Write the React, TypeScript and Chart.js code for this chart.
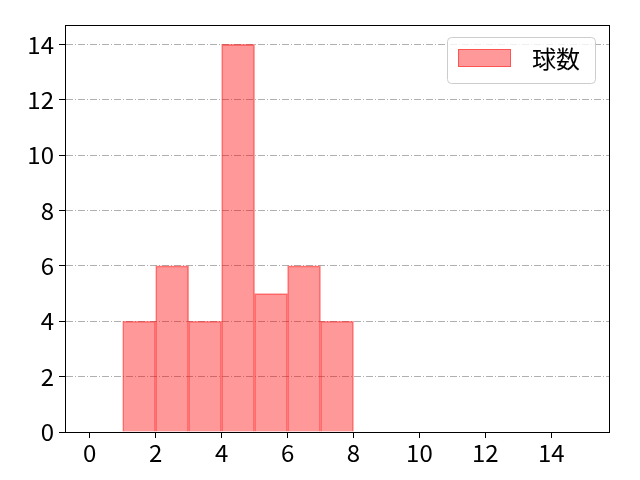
import { useEffect, useRef } from 'react';
import { Chart, registerables } from 'chart.js';

Chart.register(...registerables);

// histogram bins (left edges, width 1) and counts
const binStarts = [1, 2, 3, 4, 5, 6, 7];
const counts = [4, 6, 4, 14, 5, 6, 4];
const seriesLabel = '球数';
const xTicks = [0, 2, 4, 6, 8, 10, 12, 14];
const yTicks = [0, 2, 4, 6, 8, 10, 12, 14];

const FONT = "'Noto Sans CJK JP', 'DejaVu Sans', sans-serif";
const FILL = 'rgba(255, 0, 0, 0.4)';
const EDGE = 'rgba(255, 0, 0, 0.45)';

// matplotlib-like frame + legend box
const framePlugin = {
  id: 'frame',
  afterDraw(chart: Chart) {
    const { ctx, chartArea } = chart;
    ctx.save();
    ctx.strokeStyle = '#000';
    ctx.lineWidth = 1;
    ctx.strokeRect(
      Math.round(chartArea.left) + 0.5,
      Math.round(chartArea.top) + 0.5,
      Math.round(chartArea.right - chartArea.left),
      Math.round(chartArea.bottom - chartArea.top)
    );

    // legend
    const lx = chartArea.right - 162;
    const ly = chartArea.top + 12;
    const lw = 148;
    const lh = 46;
    ctx.beginPath();
    ctx.roundRect(lx + 0.5, ly + 0.5, lw, lh, 4);
    ctx.fillStyle = 'rgba(255,255,255,0.8)';
    ctx.fill();
    ctx.strokeStyle = '#cccccc';
    ctx.stroke();

    ctx.fillStyle = FILL;
    ctx.fillRect(lx + 11, ly + 12, 53, 18);
    ctx.strokeStyle = EDGE;
    ctx.strokeRect(lx + 11.5, ly + 12.5, 52, 17);

    ctx.fillStyle = '#000';
    ctx.font = `24px ${FONT}`;
    ctx.textBaseline = 'middle';
    ctx.textAlign = 'left';
    ctx.fillText(chart.data.datasets[0].label || '', lx + 85, ly + 22);
    ctx.restore();
  }
};

export default function App() {
  const canvasRef = useRef<HTMLCanvasElement | null>(null);
  const chartRef = useRef<Chart | null>(null);

  useEffect(() => {
    if (!canvasRef.current) return;
    if (chartRef.current) chartRef.current.destroy();

    const TICK = { color: '#000', font: { family: FONT, size: 24 } };

    chartRef.current = new Chart(canvasRef.current, {
      type: 'bar',
      data: {
        datasets: [
          {
            label: seriesLabel,
            data: binStarts.map((s, i) => ({ x: s + 0.5, y: counts[i] })),
            backgroundColor: FILL,
            borderColor: EDGE,
            borderWidth: 1,
            barPercentage: 1,
            categoryPercentage: 1
          }
        ]
      },
      options: {
        animation: false,
        responsive: true,
        maintainAspectRatio: false,
        layout: { padding: { top: 25, right: 31, left: 0, bottom: 0 } },
        scales: {
          x: {
            type: 'linear',
            min: -0.75,
            max: 15.75,
            offset: false,
            afterBuildTicks: (axis: any) => {
              axis.ticks = xTicks.map((v) => ({ value: v }));
            },
            afterFit: (axis: any) => {
              axis.height = 48;
            },
            ticks: { ...TICK, padding: 0, maxRotation: 0, autoSkip: false },
            grid: {
              offset: false,
              drawOnChartArea: false,
              drawTicks: true,
              tickLength: 6,
              tickColor: '#000'
            },
            border: { display: true, color: '#000', width: 1 }
          },
          y: {
            type: 'linear',
            min: 0,
            max: 14.7,
            z: 1,
            afterBuildTicks: (axis: any) => {
              axis.ticks = yTicks.map((v) => ({ value: v }));
            },
            afterFit: (axis: any) => {
              axis.width = 65;
            },
            ticks: { ...TICK, padding: 5 },
            grid: {
              color: (c: any) => (c.tick && c.tick.value === 0 ? 'rgba(0,0,0,0)' : '#b0b0b0'),
              lineWidth: 1,
              drawTicks: true,
              tickLength: 6,
              tickColor: '#000',
              tickBorderDash: []
            },
            border: { display: true, color: '#000', width: 1, dash: [7, 2, 1, 2] }
          }
        },
        plugins: {
          legend: { display: false },
          tooltip: { enabled: false }
        }
      },
      plugins: [framePlugin]
    });

    return () => {
      if (chartRef.current) {
        chartRef.current.destroy();
        chartRef.current = null;
      }
    };
  }, []);

  return (
    <div style={{ position: 'absolute', left: 0, top: 0, width: '640px', height: '480px', background: '#fff' }}>
      <canvas ref={canvasRef} aria-label="球数 histogram" />
    </div>
  );
}
